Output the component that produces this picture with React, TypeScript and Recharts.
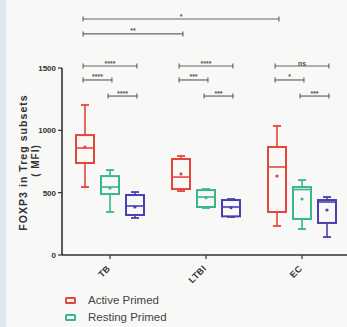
import React from 'react';
import { ComposedChart, Bar, XAxis, YAxis, ReferenceLine } from 'recharts';

const categories = ['TB', 'LTBI', 'EC'];
const seriesNames = ['Active Primed', 'Resting Primed', 'Unprimed'];
const seriesColors = ['#e5453c', '#38b78a', '#4a3fae'];
const legendVisible = 2; // the third legend entry falls below the picture's edge

// per series: values for TB, LTBI, EC
const minVals = [
  [545, 513, 233],
  [345, 377, 208],
  [297, 305, 144],
];
const q1Vals = [
  [738, 529, 345],
  [489, 385, 289],
  [321, 310, 257],
];
const medianVals = [
  [858, 625, 706],
  [545, 465, 525],
  [393, 385, 425],
];
const q3Vals = [
  [962, 770, 866],
  [633, 521, 545],
  [481, 441, 441],
];
const maxVals = [
  [1203, 794, 1035],
  [682, 529, 601],
  [505, 449, 465],
];
const meanVals = [
  [866, 650, 633],
  [537, 460, 449],
  [385, 380, 361],
];

const yTicks = [0, 500, 1000, 1500];

// significance brackets: [fromCategory, fromSeries, toCategory, toSeries, height (MFI), label]
const brackets: [number, number, number, number, number, string][] = [
  [0, 0, 2, 0, 1893, '*'],
  [0, 0, 1, 0, 1773, '**'],
  [0, 0, 0, 2, 1516, '****'],
  [0, 0, 0, 1, 1404, '****'],
  [0, 1, 0, 2, 1275, '****'],
  [1, 0, 1, 2, 1516, '****'],
  [1, 0, 1, 1, 1404, '***'],
  [1, 1, 1, 2, 1275, '***'],
  [2, 0, 2, 2, 1516, 'ns'],
  [2, 0, 2, 1, 1404, '*'],
  [2, 1, 2, 2, 1275, '***'],
];

const data = categories.map((name, c) => {
  const row: any = { name, idx: c };
  seriesNames.forEach((_, s) => {
    row[`s${s}`] = [minVals[s][c], maxVals[s][c]];
  });
  return row;
});

const FONT = '"Liberation Sans", Arial, sans-serif';

const makeBox = (s: number) => (props: any) => {
  const { x, y, width, height, payload } = props;
  const c = categories.indexOf(payload.name);
  const lo = minVals[s][c];
  const hi = maxVals[s][c];
  const top = Math.min(y, y + height);
  const h = Math.abs(height);
  const py = (v: number) => top + (h * (hi - v)) / (hi - lo);
  const cx = x + width / 2;
  const color = seriesColors[s];
  const yQ1 = py(q1Vals[s][c]);
  const yQ3 = py(q3Vals[s][c]);
  return (
    <g>
      <line x1={cx} x2={cx} y1={py(hi)} y2={yQ3} stroke={color} strokeWidth={1.6} />
      <line x1={cx} x2={cx} y1={yQ1} y2={py(lo)} stroke={color} strokeWidth={1.6} />
      <line x1={cx - 4} x2={cx + 4} y1={py(hi)} y2={py(hi)} stroke={color} strokeWidth={1.8} />
      <line x1={cx - 4} x2={cx + 4} y1={py(lo)} y2={py(lo)} stroke={color} strokeWidth={1.8} />
      <rect x={x + 1} y={yQ3} width={width - 2} height={Math.max(yQ1 - yQ3, 0.5)} fill="none" stroke={color} strokeWidth={2} />
      <line x1={x + 1} x2={x + width - 1} y1={py(medianVals[s][c])} y2={py(medianVals[s][c])} stroke={color} strokeWidth={1.6} />
      <circle cx={cx} cy={py(meanVals[s][c])} r={1.6} fill={color} />
    </g>
  );
};

const XTick = (props: any) => {
  const { x, y, payload } = props;
  return (
    <g transform={`translate(${x + 1},${y + 8})`}>
      <text x={0} y={0} textAnchor="end" transform="rotate(-45)" fontSize={9} fontWeight="bold" fill="#333" fontFamily={FONT} letterSpacing={0.4}>
        {payload.value}
      </text>
    </g>
  );
};

const YLabel = (props: any) => {
  const vb = props.viewBox || { x: 0, y: 68, width: 62, height: 187 };
  const cy = vb.y + vb.height / 2;
  const x1 = vb.x + 27;
  const x2 = vb.x + 39;
  return (
    <g>
      <text x={x1} y={cy + 1} transform={`rotate(-90, ${x1}, ${cy + 1})`} textAnchor="middle" fontSize={10.5} fontWeight="bold" fill="#333" fontFamily={FONT} letterSpacing={1.05}>
        FOXP3 in Treg subsets
      </text>
      <text x={x2} y={cy - 1} transform={`rotate(-90, ${x2}, ${cy - 1})`} textAnchor="middle" fontSize={10} fontWeight="bold" fill="#333" fontFamily={FONT} letterSpacing={1}>
        ( MFI)
      </text>
    </g>
  );
};

const OFFSET = 25 / 96;
const bx = (c: number, s: number) => c + (s - 1) * OFFSET;

export default function App() {
  return (
    <div style={{ position: 'absolute', left: 0, top: 0, width: 347, height: 327, overflow: 'hidden', background: '#f8f8f6' }}>
      <div style={{ position: 'absolute', left: 0, top: 0, width: 6, height: 327, background: '#dfe7f1' }} />
      <div style={{ position: 'absolute', left: 0, top: 0 }}>
        <ComposedChart width={352} height={327} data={data} margin={{ top: 68, right: 2, bottom: 0, left: 0 }} barSize={20} barGap={5}>
          <XAxis
            dataKey="name"
            height={72}
            axisLine={{ stroke: '#333', strokeWidth: 1.6 }}
            tickLine={{ stroke: '#333', strokeWidth: 1.2 }}
            tickSize={4}
            tick={<XTick />}
            interval={0}
          />
          <XAxis xAxisId="n" dataKey="idx" type="number" domain={[-0.5, 2.5]} hide allowDataOverflow />
          <YAxis
            width={62}
            domain={[0, 1500]}
            ticks={yTicks}
            interval={0}
            axisLine={{ stroke: '#333', strokeWidth: 1.6 }}
            tickLine={{ stroke: '#333', strokeWidth: 1.2 }}
            tickSize={4}
            tick={{ fontSize: 8, fontWeight: 'bold', fill: '#333', fontFamily: FONT }}
            label={<YLabel />}
          />
          {seriesNames.map((n, s) => (
            <Bar key={n} name={n} dataKey={`s${s}`} fill={seriesColors[s]} shape={makeBox(s)} isAnimationActive={false} />
          ))}
          {brackets.map(([c1, s1, c2, s2, h, label], i) => {
            const xa = bx(c1, s1) - 0.02;
            const xb = bx(c2, s2) + 0.02;
            return (
              <React.Fragment key={i}>
                <ReferenceLine
                  xAxisId="n"
                  ifOverflow="visible"
                  segment={[{ x: xa, y: h }, { x: xb, y: h }]}
                  stroke="#666"
                  strokeWidth={1.2}
                  label={{ value: label, position: 'top', offset: 0.5, fontSize: 7, fontWeight: 'bold', fill: '#555', fontFamily: FONT }}
                />
                <ReferenceLine xAxisId="n" ifOverflow="visible" segment={[{ x: xa, y: h - 20 }, { x: xa, y: h + 20 }]} stroke="#666" strokeWidth={1.2} />
                <ReferenceLine xAxisId="n" ifOverflow="visible" segment={[{ x: xb, y: h - 20 }, { x: xb, y: h + 20 }]} stroke="#666" strokeWidth={1.2} />
              </React.Fragment>
            );
          })}
        </ComposedChart>
      </div>
      {seriesNames.slice(0, legendVisible).map((n, s) => (
        <div key={n} style={{ position: 'absolute', left: 65, top: 294 + s * 17, height: 12, display: 'flex', alignItems: 'center', fontFamily: FONT, fontSize: 11.5, color: '#444' }}>
          <span style={{ display: 'inline-block', width: 7, height: 3, border: `2.5px solid ${seriesColors[s]}`, borderRadius: 1.5, background: '#fff', marginRight: 12 }} />
          <span>{n}</span>
        </div>
      ))}
    </div>
  );
}
